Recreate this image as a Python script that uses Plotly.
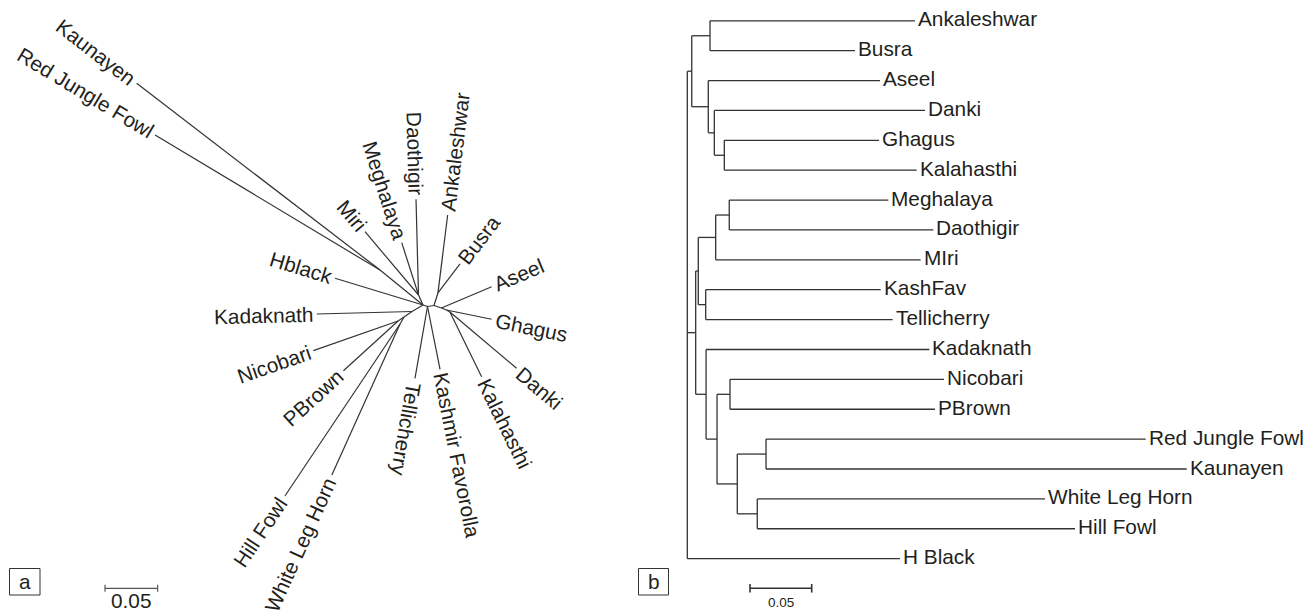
import math
import plotly.graph_objects as go

# ---------------- DATA ----------------
# Panel a: unrooted (radiation) tree. Each node: parent, branch length, branch direction (deg, CCW from east)
A_NODES = ["c", "k", "Kaunayen", "Red Jungle Fowl", "u", "Miri", "Meghalaya", "Daothigir", "Hblack",
           "l1", "Kadaknath", "l2", "np", "Nicobari", "PBrown", "hw", "Hill Fowl", "White Leg Horn",
           "a1", "Tellicherry", "Kashmir Favorolla", "r1", "ab", "Ankaleshwar", "Busra",
           "r2", "Aseel", "r3", "Ghagus", "r4", "Danki", "Kalahasthi"]
A_PARENT = [None, "c", "k", "k", "c", "u", "u", "u", "c",
            "c", "l1", "l1", "l2", "np", "np", "l2", "hw", "hw",
            "c", "a1", "a1", "a1", "r1", "ab", "ab",
            "r1", "r2", "r2", "r3", "r3", "r4", "r4"]
A_LENGTH = [0.0, 0.0526, 0.2913, 0.2492, 0.0104, 0.0787, 0.0522, 0.0909, 0.0873,
            0.0121, 0.0905, 0.0092, 0.0068, 0.0853, 0.0702, 0.0077, 0.1965, 0.1574,
            0.0045, 0.0692, 0.0608, 0.0062, 0.0125, 0.0746, 0.0346,
            0.0075, 0.0518, 0.0051, 0.0438, 0.0038, 0.0829, 0.0684]
A_ANGLE = [0.0, 140.9, 142.5, 149.0, 114.2, 130.2, 107.8, 91.5, 163.1,
           210.6, 181.5, 214.5, 213.7, 199.3, 222.3, 240.3, 236.2, 245.7,
           341.6, 260.1, 281.3, 8.7, 72.3, 82.9, 52.8,
           341.6, 23.0, 338.2, 348.4, 330.3, 319.8, 296.1]

# Panel b: rooted tree (parent, branch length); tips listed in display order
B_NODES = ["root", "A", "AB", "Ankaleshwar", "Busra", "AS", "Aseel", "DK", "Danki", "GK", "Ghagus", "Kalahasthi",
           "B", "C1", "MI", "MD", "Meghalaya", "Daothigir", "MIri", "KT", "KashFav", "Tellicherry",
           "C2", "Kadaknath", "C3", "NP", "Nicobari", "PBrown", "C4", "RK", "Red Jungle Fowl", "Kaunayen",
           "WH", "White Leg Horn", "Hill Fowl", "H Black"]
B_PARENT = [None, "root", "A", "AB", "AB", "A", "AS", "AS", "DK", "DK", "GK", "GK",
            "root", "B", "C1", "MI", "MD", "MD", "MI", "C1", "KT", "KT",
            "B", "C2", "C2", "C3", "NP", "NP", "C3", "C4", "RK", "RK",
            "C4", "WH", "WH", "root"]
B_LENGTH = [0.0, 0.0036, 0.0148, 0.1661, 0.1175, 0.0134, 0.1392, 0.0049, 0.1707, 0.0081, 0.1254, 0.1559,
            0.0068, 0.0021, 0.0141, 0.0110, 0.1289, 0.1654, 0.1661, 0.0060, 0.1418, 0.1515,
            0.0084, 0.1809, 0.0089, 0.0105, 0.1734, 0.1661, 0.0164, 0.0233, 0.3077, 0.3409,
            0.0162, 0.2332, 0.2575, 0.1724]

SCALE_LEN = 0.05
SCALE_TEXT = "0.05"
PANEL_TAGS = ["a", "b"]

# ---------------- LAYOUT CONSTANTS ----------------
W, H = 1308, 615
SPLIT = 654
A_PX = 1053.0            # px per unit, panel a
A_CX, A_CY = 423.0, 305.0
B_PX = 1234.0            # px per unit, panel b
B_X0 = 687.3
B_Y0, B_DY = 20.8, 29.88

FONT = "Liberation Sans, Arial, Helvetica, sans-serif"
INK = "#231f20"
LINE = "#333333"
FS = 20.8
LW = 1.3

ARIAL = {' ': 278, '.': 278, 'A': 667, 'B': 667, 'C': 722, 'D': 722, 'E': 667, 'F': 611, 'G': 778, 'H': 722,
         'I': 278, 'J': 500, 'K': 667, 'L': 556, 'M': 833, 'N': 722, 'O': 778, 'P': 667, 'R': 722, 'S': 667,
         'T': 611, 'W': 944, 'a': 556, 'b': 556, 'c': 500, 'd': 556, 'e': 556, 'f': 278, 'g': 556, 'h': 556,
         'i': 222, 'j': 222, 'k': 500, 'l': 222, 'm': 833, 'n': 556, 'o': 556, 'p': 556, 'r': 333, 's': 500,
         't': 278, 'u': 556, 'v': 500, 'w': 722, 'y': 500}


def text_w(s, fs):
    return sum(ARIAL.get(ch, 556) for ch in s) / 1000.0 * fs


fig = go.Figure()
annotations = []

# ---------------- PANEL a ----------------
pos = {}
for n, p, ln, ang in zip(A_NODES, A_PARENT, A_LENGTH, A_ANGLE):
    if p is None:
        pos[n] = (0.0, 0.0)
    else:
        t = math.radians(ang)
        pos[n] = (pos[p][0] + ln * math.cos(t), pos[p][1] + ln * math.sin(t))

xs, ys = [], []
for n, p in zip(A_NODES, A_PARENT):
    if p is None:
        continue
    xs += [pos[p][0], pos[n][0], None]
    ys += [pos[p][1], pos[n][1], None]
fig.add_trace(go.Scatter(x=xs, y=ys, mode="lines", line=dict(color=LINE, width=1.2),
                         hoverinfo="skip", xaxis="x", yaxis="y", showlegend=False))

a_parents = set(p for p in A_PARENT if p)
gap = 4.0
for n, ang in zip(A_NODES, A_ANGLE):
    if n in a_parents:
        continue
    th = ((ang + 180) % 360) - 180
    right = -105 < th < 90
    tangle = -th if right else 180 - (ang % 360)
    tangle = ((tangle + 180) % 360) - 180
    d = (gap + text_w(n, FS) / 2) / A_PX
    t = math.radians(ang)
    cx = pos[n][0] + d * math.cos(t)
    cy = pos[n][1] + d * math.sin(t)
    annotations.append(dict(x=cx, y=cy, xref="x", yref="y", text=n, showarrow=False,
                            xanchor="center", yanchor="middle", textangle=tangle,
                            font=dict(family=FONT, size=FS, color=INK)))

# scale bar a
sa_x0, sa_y = (105 - A_CX) / A_PX, (A_CY - 588.3) / A_PX
cap = 3.5 / A_PX
fig.add_trace(go.Scatter(x=[sa_x0, sa_x0 + SCALE_LEN, None, sa_x0, sa_x0, None, sa_x0 + SCALE_LEN, sa_x0 + SCALE_LEN],
                         y=[sa_y, sa_y, None, sa_y - cap, sa_y + cap, None, sa_y - cap, sa_y + cap],
                         mode="lines", line=dict(color="#555555", width=1.2), hoverinfo="skip",
                         xaxis="x", yaxis="y", showlegend=False))
annotations.append(dict(x=sa_x0 + SCALE_LEN / 2, y=sa_y - 12.5 / A_PX, xref="x", yref="y", text=SCALE_TEXT,
                        showarrow=False, xanchor="center", yanchor="middle",
                        font=dict(family=FONT, size=FS, color=INK)))

# ---------------- PANEL b ----------------
depth, children = {}, {}
for n, p, ln in zip(B_NODES, B_PARENT, B_LENGTH):
    depth[n] = 0.0 if p is None else depth[p] + ln
    if p is not None:
        children.setdefault(p, []).append(n)
tips = [n for n in B_NODES if n not in children]
row = {n: float(i) for i, n in enumerate(tips)}


def gety(n):
    if n not in row:
        cy = [gety(c) for c in children[n]]
        row[n] = (cy[0] + cy[-1]) / 2.0
    return row[n]


for n in B_NODES:
    gety(n)

xs, ys = [], []
for n, p in zip(B_NODES, B_PARENT):
    if p is not None:
        xs += [depth[p], depth[n], None]
        ys += [row[n], row[n], None]
    if n in children:
        ch = children[n]
        xs += [depth[n], depth[n], None]
        ys += [row[ch[0]], row[ch[-1]], None]
fig.add_trace(go.Scatter(x=xs, y=ys, mode="lines", line=dict(color=LINE, width=LW),
                         hoverinfo="skip", xaxis="x2", yaxis="y2", showlegend=False))

for n in tips:
    annotations.append(dict(x=depth[n], y=row[n], xref="x2", yref="y2", text=n, showarrow=False,
                            xanchor="left", yanchor="middle", xshift=1, yshift=2,
                            font=dict(family=FONT, size=FS, color=INK)))

# scale bar b
sb_x0, sb_y = (750 - B_X0) / B_PX, (588.3 - B_Y0) / B_DY
capb = 4.3 / B_DY
fig.add_trace(go.Scatter(x=[sb_x0, sb_x0 + SCALE_LEN, None, sb_x0, sb_x0, None, sb_x0 + SCALE_LEN, sb_x0 + SCALE_LEN],
                         y=[sb_y, sb_y, None, sb_y - capb, sb_y + capb, None, sb_y - capb, sb_y + capb],
                         mode="lines", line=dict(color="#333333", width=1.6), hoverinfo="skip",
                         xaxis="x2", yaxis="y2", showlegend=False))
annotations.append(dict(x=sb_x0 + SCALE_LEN / 2, y=sb_y + 14.5 / B_DY, xref="x2", yref="y2", text=SCALE_TEXT,
                        showarrow=False, xanchor="center", yanchor="middle",
                        font=dict(family=FONT, size=13.5, color=INK)))

# ---------------- panel tags ----------------
shapes = []
for tag, (x0, x1) in zip(PANEL_TAGS, [(9.5, 40.0), (638.5, 668.5)]):
    y0, y1 = 568.5, 595.0
    shapes.append(dict(type="rect", xref="paper", yref="paper", x0=x0 / W, x1=x1 / W,
                       y0=1 - y1 / H, y1=1 - y0 / H, line=dict(color="#333333", width=1)))
    annotations.append(dict(x=(x0 + x1) / 2 / W, y=1 - 581.0 / H, xref="paper", yref="paper", text=tag,
                            showarrow=False, xanchor="center", yanchor="middle",
                            font=dict(family=FONT, size=FS, color=INK)))

ax_off = dict(visible=False, showgrid=False, zeroline=False, fixedrange=True)
fig.update_layout(
    width=W, height=H, margin=dict(l=0, r=0, t=0, b=0),
    paper_bgcolor="white", plot_bgcolor="white",
    xaxis=dict(domain=[0, SPLIT / W], range=[-A_CX / A_PX, (SPLIT - A_CX) / A_PX], **ax_off),
    yaxis=dict(domain=[0, 1], range=[-(H - A_CY) / A_PX, A_CY / A_PX], **ax_off),
    xaxis2=dict(domain=[SPLIT / W, 1], range=[(SPLIT - B_X0) / B_PX, (W - B_X0) / B_PX], **ax_off),
    yaxis2=dict(domain=[0, 1], range=[(H - B_Y0) / B_DY, -B_Y0 / B_DY], anchor="x2", **ax_off),
    annotations=annotations, shapes=shapes, showlegend=False,
)
fig.write_html("out.html", config={"displayModeBar": False},
               post_script="document.body.style.margin='0px';document.body.style.overflow='hidden';")
